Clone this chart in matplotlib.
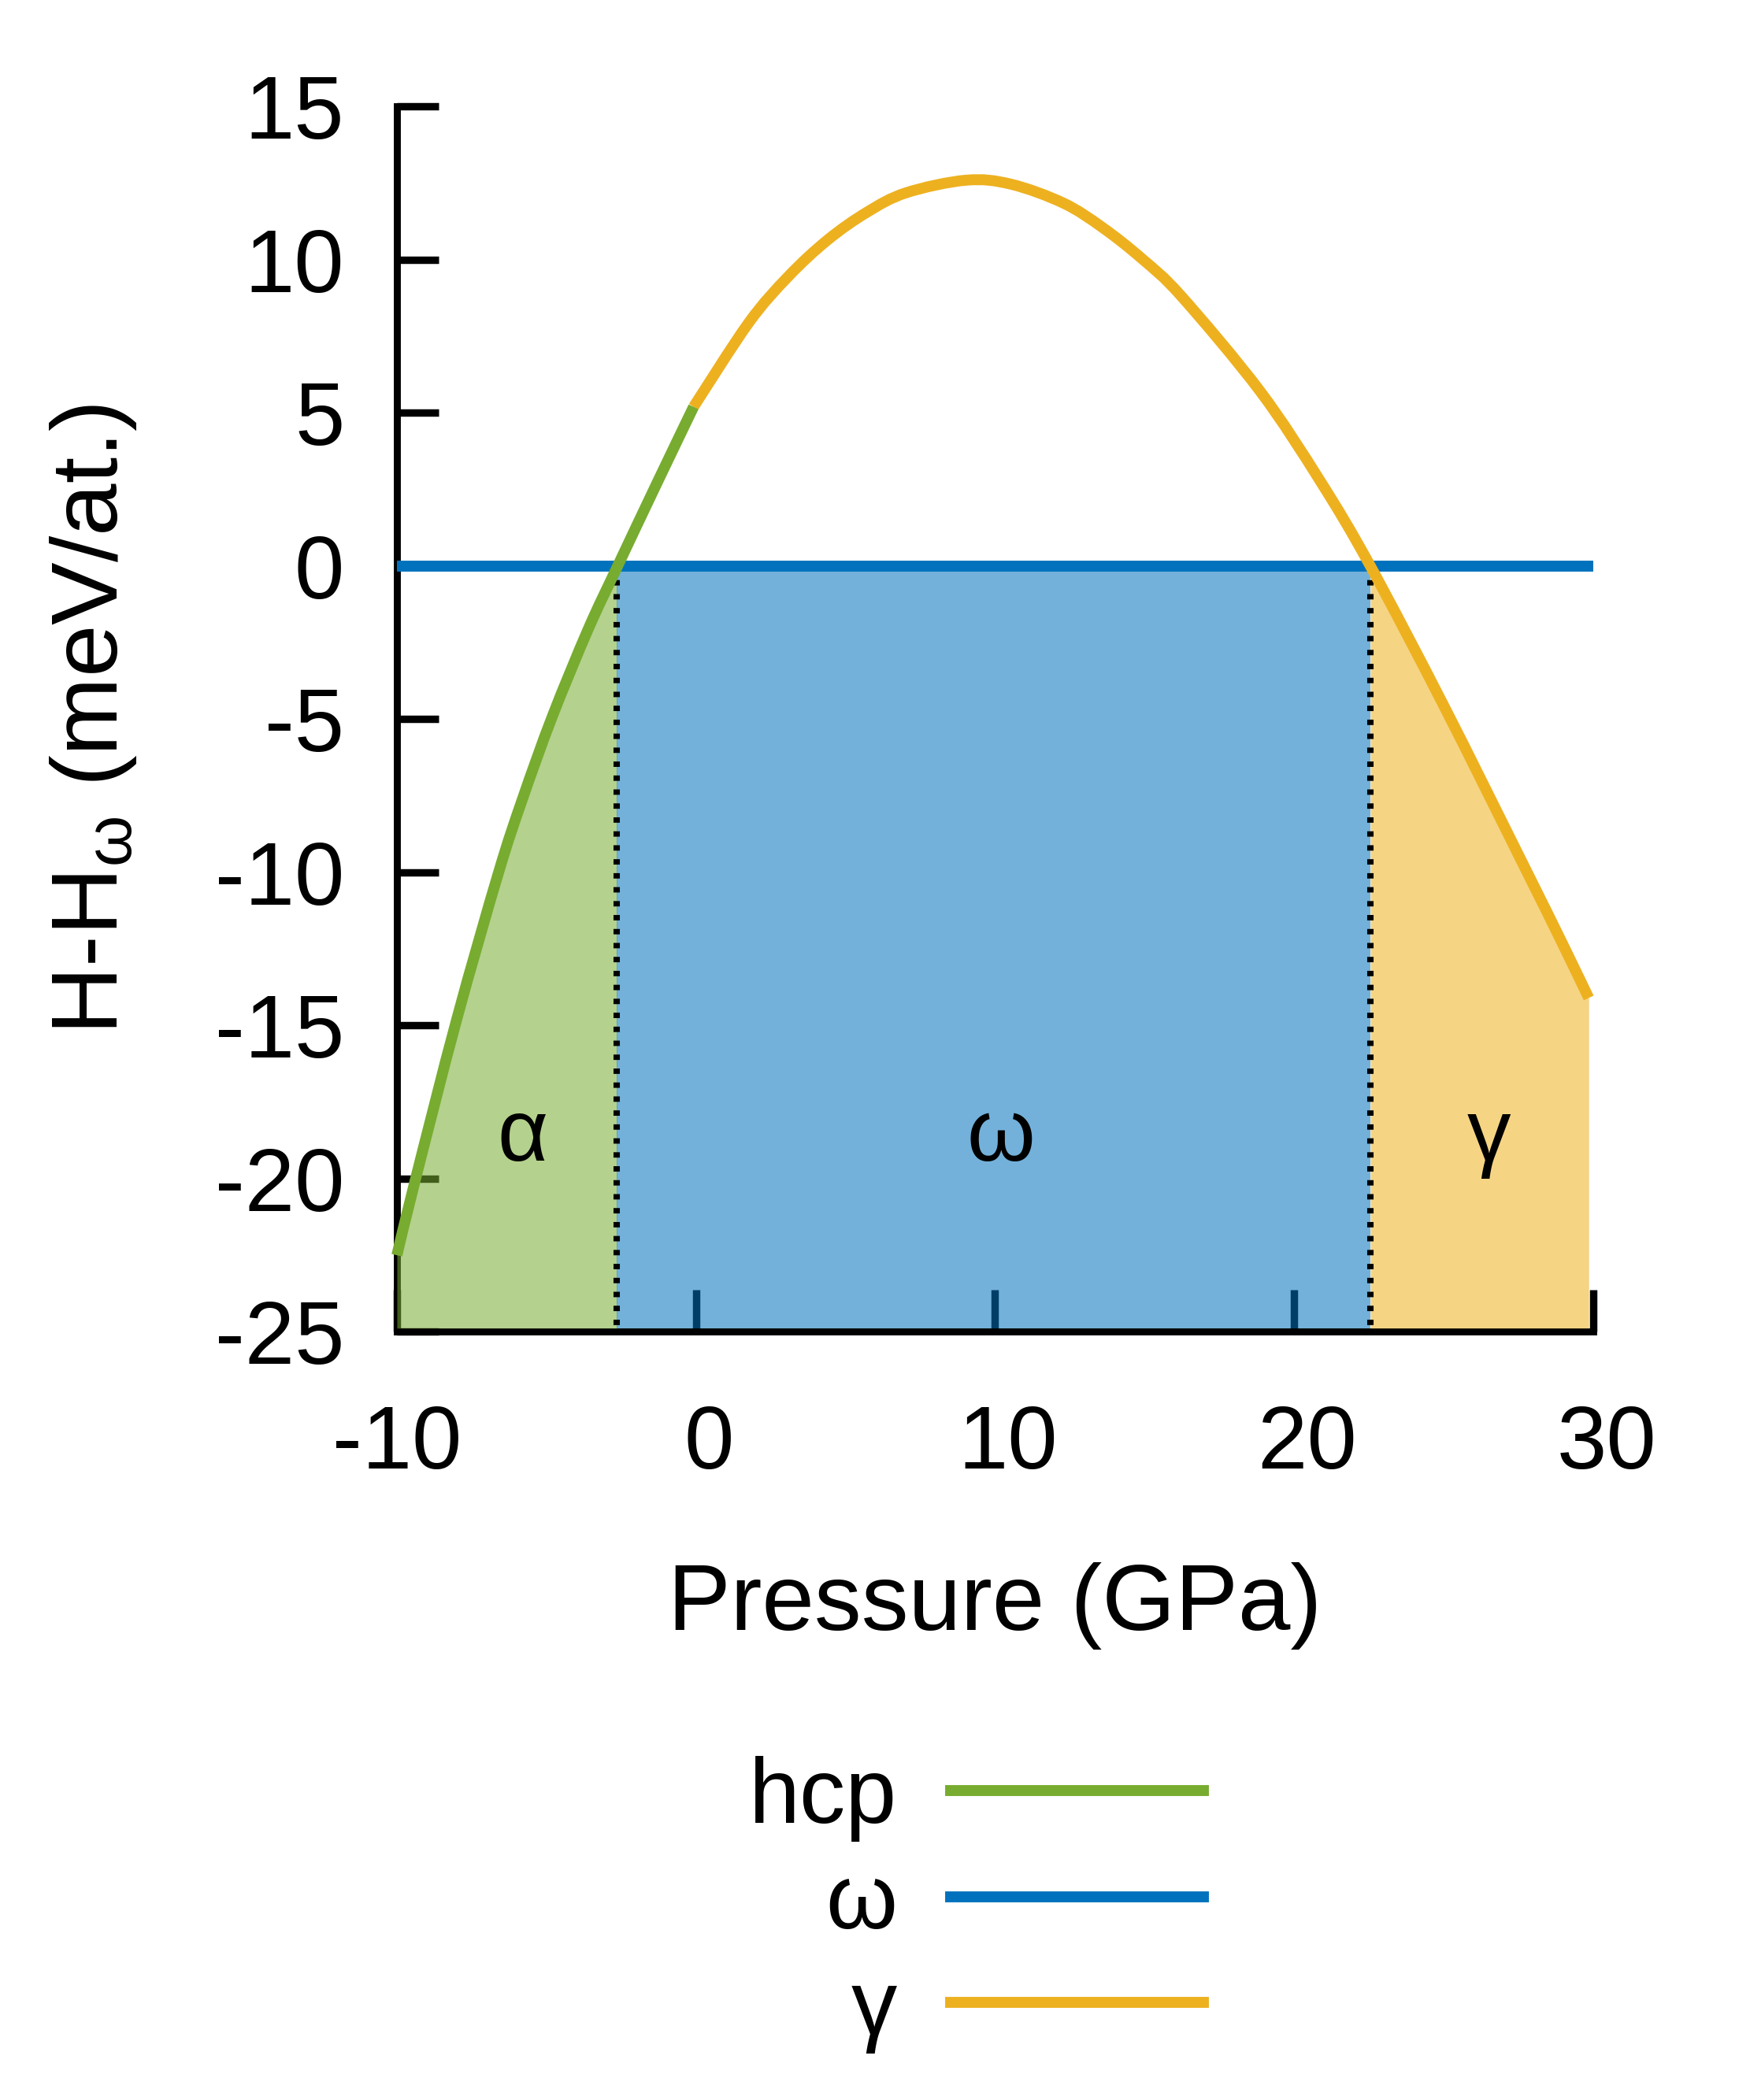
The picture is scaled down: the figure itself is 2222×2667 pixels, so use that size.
import numpy as np
import matplotlib.pyplot as plt
import matplotlib.transforms as mtransforms
from matplotlib.lines import Line2D
from matplotlib.path import Path
from matplotlib.patches import PathPatch

plt.rcParams['font.family'] = ['Liberation Sans', 'DejaVu Sans']
plt.rcParams['mathtext.fontset'] = 'custom'
plt.rcParams['mathtext.rm'] = 'Liberation Sans'
plt.rcParams['mathtext.it'] = 'Liberation Sans:italic'
plt.rcParams['axes.unicode_minus'] = False

# values (pressure in GPa, H-H_omega in meV/at.)
hcp_p = np.array([-10.0, -9.4, -8.0, -6.6, -5.8, -4.8, -3.6, -2.62, -1.31, -0.08])
hcp_h = np.array([-22.5, -20.1, -14.8, -10.0, -7.6, -4.9, -2.05, 0.0, 2.7, 5.2])

gamma_p = np.array([-0.08, 1.76, 3.08, 4.39, 5.71, 7.03, 9.04, 10.53, 12.29, 13.6,
                    14.92, 16.24, 18.87, 20.89, 22.55, 25.0, 27.64, 28.96, 29.85])
gamma_h = np.array([5.2, 7.94, 9.45, 10.64, 11.55, 12.19, 12.6, 12.47, 11.85, 11.05,
                    10.03, 8.8, 5.7, 2.75, 0.0, -4.55, -9.7, -12.3, -14.1])

omega_p = np.array([-10.0, 30.0])
omega_h = np.array([0.0, 0.0])

# phase boundaries
p_alpha_omega = -2.65
p_omega_gamma = 22.55

phase_names = ['α', 'ω', 'γ']
phase_pos = [-5.8, 10.2, 26.5]
legend_labels = ['hcp', 'ω', 'γ']

green = '#77AC30'
blue = '#0072BD'
orange = '#EDB120'


def smooth_path(x, y):
    # smooth bezier through the read points (catmull-rom control points)
    pts = np.column_stack([x, y])
    verts = [pts[0]]
    codes = [Path.MOVETO]
    n = len(pts)
    for i in range(n - 1):
        p0 = pts[i - 1] if i > 0 else pts[i]
        p1 = pts[i]
        p2 = pts[i + 1]
        p3 = pts[i + 2] if i + 2 < n else pts[i + 1]
        verts += [p1 + (p2 - p0) / 6, p2 - (p3 - p1) / 6, p2]
        codes += [Path.CURVE4] * 3
    return Path(verts, codes)


fig = plt.figure(figsize=(11.11, 13.335), dpi=200)
ax = fig.add_axes([0.2268, 0.3658, 0.6836, 0.5834])

base = -24.88
ax.set_xlim(-10, 30)
ax.set_ylim(-25, 15)

# shaded stability regions
m = hcp_p <= p_alpha_omega
ax.fill_between(np.append(hcp_p[m], p_alpha_omega), np.append(hcp_h[m], 0.0), base,
                color=green, alpha=0.55, lw=0, zorder=3)
ax.fill_between([p_alpha_omega, p_omega_gamma], [0, 0], base, color=blue,
                alpha=0.55, lw=0, zorder=3)
m = gamma_p >= p_omega_gamma
ax.fill_between(gamma_p[m], gamma_h[m], base, color=orange, alpha=0.55, lw=0, zorder=3)

# dotted boundaries
for p in [p_alpha_omega, p_omega_gamma]:
    ax.plot([p, p], [0, -25], color='black', lw=2.9, ls=(0, (0.85, 1.35)), zorder=3.5)

# curves
ax.plot(omega_p, omega_h, color=blue, lw=5, zorder=4, clip_on=False, solid_capstyle='butt')
for px, hy, c, z in [(gamma_p, gamma_h, orange, 4.1), (hcp_p, hcp_h, green, 4.2)]:
    ax.add_patch(PathPatch(smooth_path(px, hy), fill=False, edgecolor=c, lw=5,
                           capstyle='butt', joinstyle='round', zorder=z, clip_on=False))

for name, p in zip(phase_names, phase_pos):
    ax.text(p, -19.4, name, fontsize=40, ha='center', va='baseline', zorder=5)

# axes styling
for s in ['top', 'right']:
    ax.spines[s].set_visible(False)
for s in ['left', 'bottom']:
    ax.spines[s].set_linewidth(3.2)
ax.set_xticks([-10, 0, 10, 20, 30])
ax.set_yticks([-25, -20, -15, -10, -5, 0, 5, 10, 15])
ax.tick_params(axis='both', direction='in', length=19, width=3.4, labelsize=41)
ax.tick_params(axis='x', pad=33)
ax.tick_params(axis='y', pad=24)

# non-negative x labels sit a little right of their ticks in the original
shift = mtransforms.ScaledTranslation(6 / 72, 0, fig.dpi_scale_trans)
for lbl in ax.get_xticklabels()[1:]:
    lbl.set_transform(lbl.get_transform() + shift)

ax.set_xlabel('Pressure (GPa)', fontsize=43, labelpad=34)
ax.set_ylabel('H-H$_{\\mathrm{\\omega}}$ (meV/at.)', fontsize=43, labelpad=35)

handles = [Line2D([], [], color=c, lw=5) for c in [green, blue, orange]]
fig.legend(handles, legend_labels, loc='center right', bbox_to_anchor=(0.6876, 0.0930),
           bbox_transform=fig.transFigure, frameon=False, markerfirst=False,
           fontsize=42, handlelength=2.75, handletextpad=0.58, labelspacing=0.22,
           borderpad=0, borderaxespad=0)

fig.savefig('out.png', dpi=200)
